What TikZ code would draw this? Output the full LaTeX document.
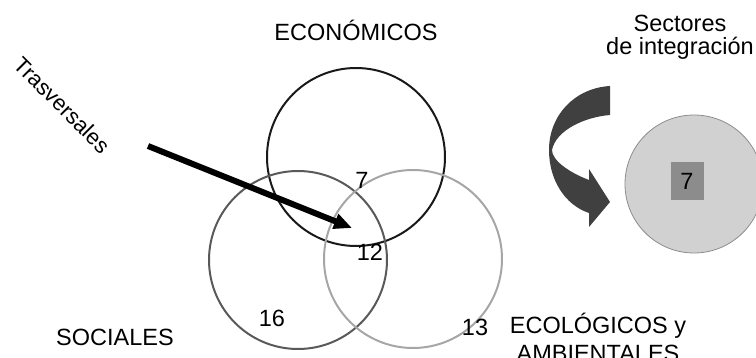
\documentclass[tikz,border=0pt]{standalone}
\usepackage{fontspec}
\setmainfont{Liberation Sans}
\usetikzlibrary{arrows.meta}

\begin{document}
\begin{tikzpicture}[x=1pt, y=-1pt, font=\fontsize{23.5}{26}\selectfont,
  setring/.style={circle, draw, line width=2pt, minimum size=178pt, inner sep=0pt},
  count/.style={inner sep=0pt}]
  \useasboundingbox (0,0) rectangle (756,358);
  % the three sets
  \node[setring, draw=black!90] (econ) at (356,157) {};
  \node[setring, draw=black!65] (soc) at (298,260) {};
  \node[setring, draw=black!35] (amb) at (413,259) {};
  \node at (356,30) (econtxt) {ECONÓMICOS};
  \node at (115,337) (soctxt) {SOCIALES};
  \node[align=center, font=\fontsize{23.5}{28}\selectfont] at (598,337) (ambtxt) {ECOLÓGICOS y\\AMBIENTALES};
  % counts
  \node[count] (n7) at (362,180) {7};
  \node[count] (n12) at (370,252) {12};
  \node[count] (n16) at (272,318) {16};
  \node[count] (n13) at (475,327) {13};
  % trasversales arrow
  \node[rotate=-45, font=\fontsize{22}{26}\selectfont] (trans) at (62,105) {Trasversales};
  \coordinate (tail) at (148,146);
  \coordinate (head) at (352,228);
  \draw[line width=6pt, -{Triangle[length=18pt,width=15pt]}] (tail) -- (head);
  % sectors
  \node[align=center, font=\fontsize{23.5}{23}\selectfont] (secttxt) at (680,37) {Sectores\\de integración};
  \node[circle, draw=black!45, fill=black!18, line width=0.8pt, minimum size=138pt] (sect) at (694,184) {};
  \node[fill=black!45, minimum width=33pt, minimum height=38pt, inner sep=0pt] (box) at (687,181) {7};
  % curved arrow
  \fill[black!75] (610,86) .. controls (575,88) and (549,115) .. (549,150)
    .. controls (549,180) and (565,205) .. (589,213) -- (589,227) -- (610,202)
    -- (589,169) -- (589,180) .. controls (568,172) and (552,160) .. (552,150)
    .. controls (556,130) and (585,117) .. (610,115) -- cycle;
\end{tikzpicture}
\end{document}
